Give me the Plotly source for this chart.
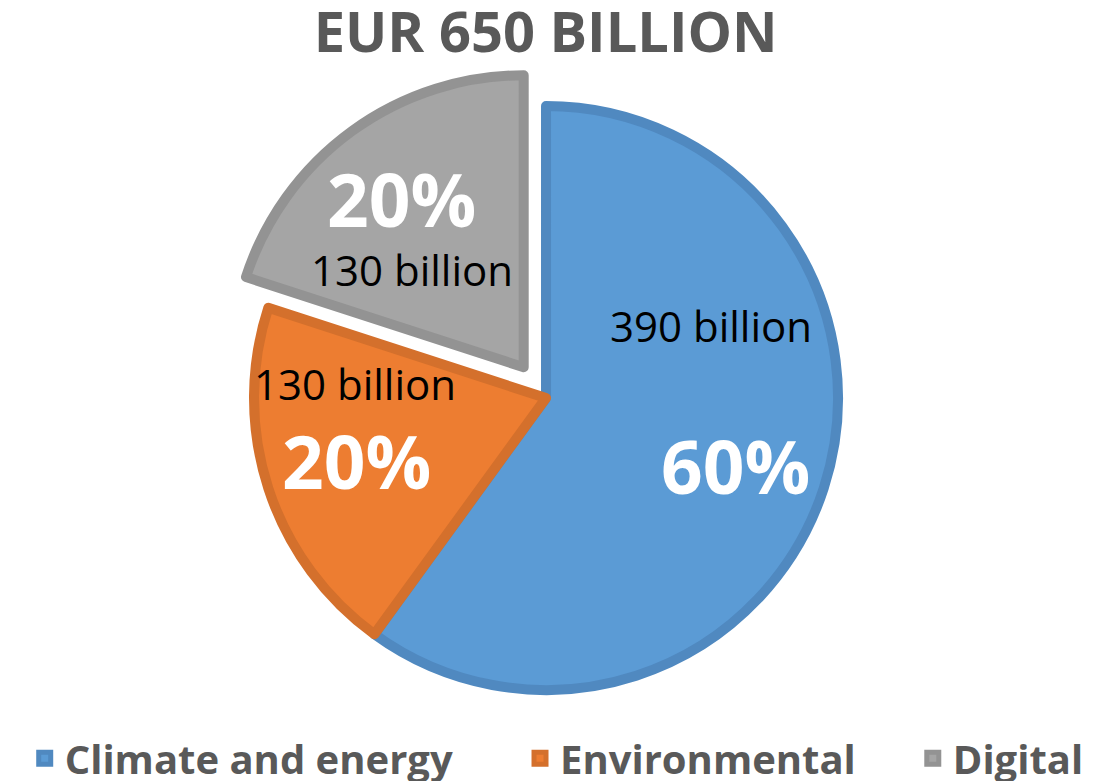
import math
import plotly.graph_objects as go

categories = ["Climate and energy", "Environmental", "Digital"]
values = [390, 130, 130]
value_unit = "billion"
title_text = "EUR 650 BILLION"

fill_colors = ["#5B9BD5", "#ED7D31", "#A5A5A5"]
line_colors = ["#5089C0", "#D4702C", "#939393"]
pulls = [0, 0, 0.13]

W, H = 1109, 781
dom_x = [0.1948, 0.7899]
dom_y = [0.0679, 0.9129]
line_w = 10

# label placement (pixel offsets from each slice's 60%-radius anchor point)
pct_offsets = [(23, 13), (-23, 8), (-19, -27)]
val_offsets = [(-2, -127), (-24, -69), (-9, 44)]

# legend entry spacing (non-breaking spaces appended after the name)
legend_pad = [6, 5, 0]

fig = go.Figure(go.Pie(
    labels=[c + "\u00a0" * p for c, p in zip(categories, legend_pad)],
    values=values,
    sort=False,
    direction="clockwise",
    rotation=0,
    pull=pulls,
    marker=dict(colors=fill_colors, line=dict(color=line_colors, width=line_w)),
    textinfo="none",
    hoverinfo="skip",
    domain=dict(x=dom_x, y=dom_y),
))

# geometry of the pie derived from the domain and the values
cx_px = (dom_x[0] + dom_x[1]) / 2 * W
cy_px = (1 - (dom_y[0] + dom_y[1]) / 2) * H
half = min((dom_x[1] - dom_x[0]) * W, (dom_y[1] - dom_y[0]) * H) / 2
r_px = half / (1 + max(pulls))
total = sum(values)

annotations = []
cum = 0
for i, v in enumerate(values):
    mid = (cum + v / 2) / total * 2 * math.pi
    cum += v
    sx, sy = math.sin(mid), -math.cos(mid)  # screen coords (y down)
    ox = cx_px + pulls[i] * r_px * sx
    oy = cy_px + pulls[i] * r_px * sy
    ax = ox + 0.6 * r_px * sx
    ay = oy + 0.6 * r_px * sy
    pct = round(v / total * 100)
    px_, py_ = ax + pct_offsets[i][0], ay + pct_offsets[i][1]
    vx_, vy_ = ax + val_offsets[i][0], ay + val_offsets[i][1]
    annotations.append(dict(
        text="<b>%d%%</b>" % pct, x=px_ / W, y=1 - py_ / H, xref="paper", yref="paper",
        xanchor="center", yanchor="middle", showarrow=False,
        font=dict(family="Open Sans", size=73, color="white")))
    annotations.append(dict(
        text="%d %s" % (v, value_unit), x=vx_ / W, y=1 - vy_ / H, xref="paper", yref="paper",
        xanchor="center", yanchor="middle", showarrow=False,
        font=dict(family="Open Sans", size=42, color="black")))

fig.update_layout(
    width=W, height=H,
    margin=dict(l=0, r=0, t=0, b=0, autoexpand=False),
    paper_bgcolor="white",
    title=dict(text="<b>" + title_text + "</b>", x=0.492, xanchor="center",
               y=0.959, yanchor="middle",
               font=dict(family="Open Sans", size=56, color="#595959")),
    legend=dict(orientation="h", x=0.502, xanchor="center", y=0.029, yanchor="middle",
                font=dict(family="Open Sans", size=40, color="#595959", weight="bold"),
                bgcolor="rgba(0,0,0,0)", traceorder="normal"),
    showlegend=True,
    annotations=annotations,
)

fig.write_html("out.html")
